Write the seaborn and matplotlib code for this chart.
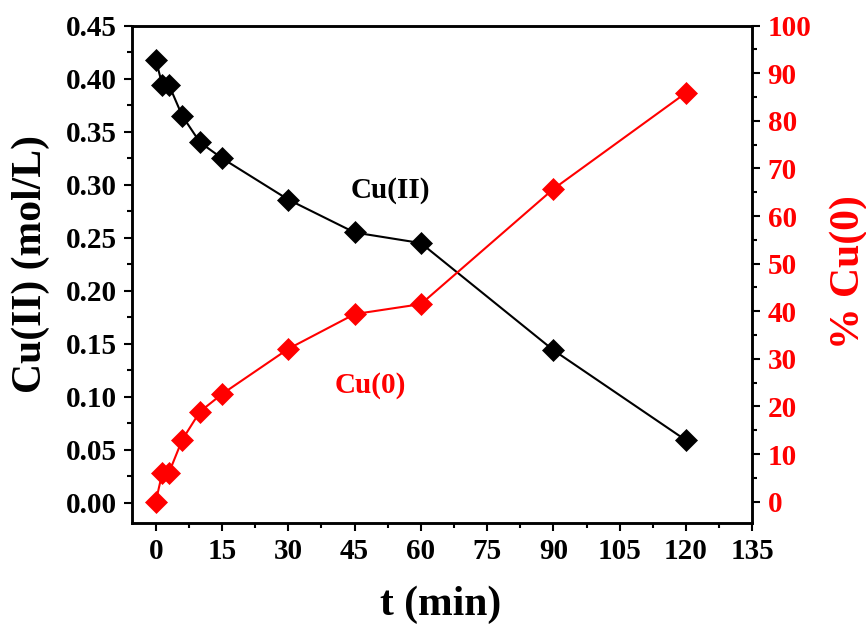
import pandas as pd
import matplotlib
matplotlib.use("Agg")
import matplotlib.pyplot as plt
import seaborn as sns
from matplotlib.ticker import MultipleLocator

# data
t_min = [0, 1.5, 3, 6, 10, 15, 30, 45, 60, 90, 120]
cu2_conc = [0.418, 0.394, 0.394, 0.365, 0.340, 0.325, 0.286, 0.255, 0.245, 0.144, 0.059]
cu0_pct = [0.0, 6.1, 6.1, 13.0, 18.9, 22.6, 32.1, 39.4, 41.5, 65.7, 85.9]

df = pd.DataFrame({"t": t_min, "cu2": cu2_conc, "cu0": cu0_pct})

sns.set_style("ticks")
plt.rcParams['font.family'] = ['Liberation Serif', 'DejaVu Serif']
plt.rcParams['font.weight'] = 'bold'
plt.rcParams['text.color'] = 'black'
plt.rcParams['axes.labelcolor'] = 'black'
plt.rcParams['xtick.color'] = 'black'
plt.rcParams['ytick.color'] = 'black'

fig = plt.figure(figsize=(8.66, 6.3), dpi=100)
ax = fig.add_axes([0.1528, 0.1698, 0.7159, 0.7894])
ax2 = ax.twinx()

# Cu(II) concentration
sns.lineplot(data=df, x="t", y="cu2", ax=ax, color="black", marker="D",
             markersize=11, markeredgecolor="black", markeredgewidth=0.5,
             linewidth=1.5)
# Cu(0) percentage
sns.lineplot(data=df, x="t", y="cu0", ax=ax2, color="red", marker="D",
             markersize=11, markeredgecolor="red", markeredgewidth=0.5,
             linewidth=1.5)

ax.set_xlim(-5.3, 135)
ax.set_ylim(-0.019, 0.45)
ax2.set_ylim(-4.5, 100)

ax.xaxis.set_major_locator(MultipleLocator(15))
ax.xaxis.set_minor_locator(MultipleLocator(7.5))
ax.yaxis.set_major_locator(MultipleLocator(0.05))
ax.yaxis.set_minor_locator(MultipleLocator(0.025))
ax2.yaxis.set_major_locator(MultipleLocator(10))
ax2.yaxis.set_minor_locator(MultipleLocator(5))

ax.yaxis.set_major_formatter(plt.FormatStrFormatter('%.2f'))

for a in (ax, ax2):
    for s in a.spines.values():
        s.set_linewidth(1.8)
        s.set_color("black")
    a.tick_params(which="major", length=6, width=1.5, direction="out", labelsize=21, pad=5)
    a.tick_params(which="minor", length=3.5, width=1.5, direction="out")
for lbl in ax2.get_yticklabels():
    lbl.set_color("red")

ax.set_xlabel("t (min)", fontsize=30, fontweight="bold")
ax.set_ylabel("Cu(II) (mol/L)", fontsize=30, fontweight="bold")
ax2.set_ylabel("% Cu(0)", fontsize=30, fontweight="bold", color="red")
ax.xaxis.set_label_coords(0.498, -0.125)
ax.yaxis.set_label_coords(-0.133, 0.52)
ax2.yaxis.set_label_coords(1.124, 0.505)

ax.text(53.2, 0.295, "Cu(II)", fontsize=21, fontweight="bold", color="black",
        ha="center", va="center")
ax2.text(48.5, 24.5, "Cu(0)", fontsize=21, fontweight="bold", color="red",
         ha="center", va="center")

fig.savefig("out.png", dpi=100)
